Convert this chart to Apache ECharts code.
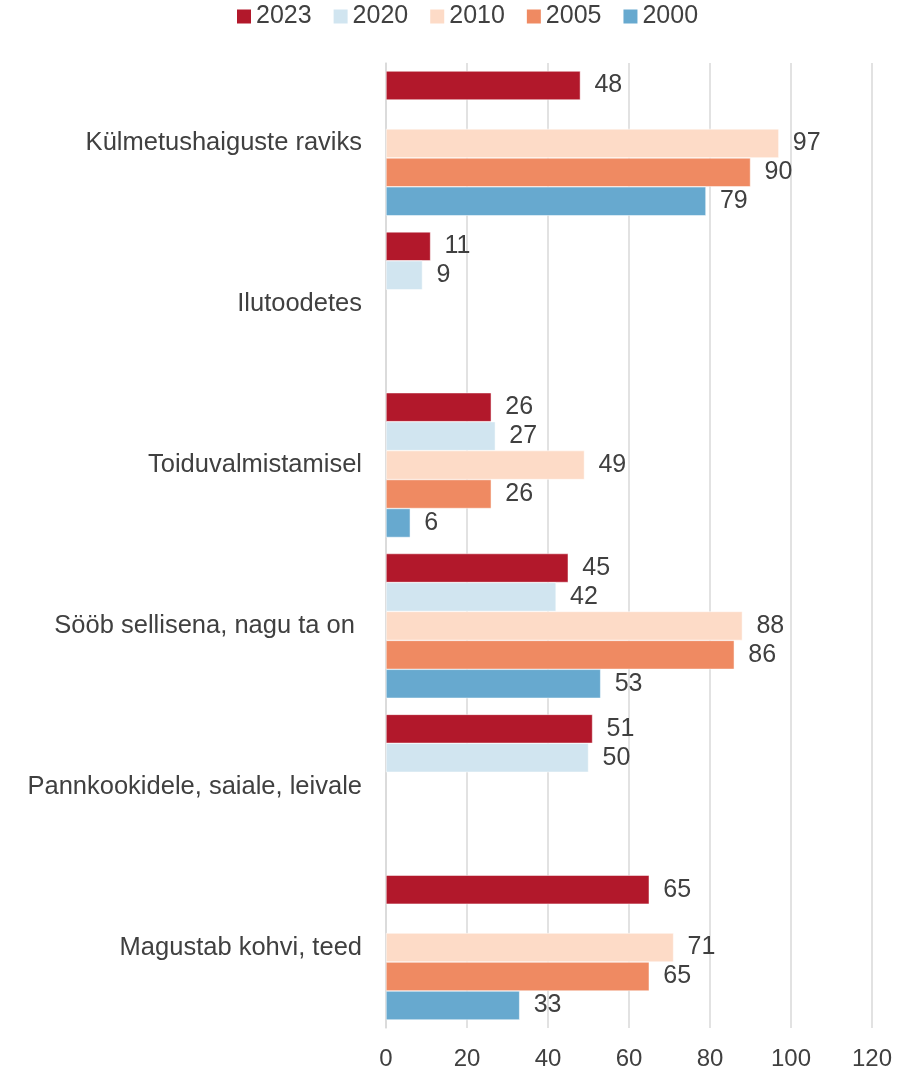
<!DOCTYPE html>
<html>
<head>
<meta charset="utf-8">
<script src="https://cdn.jsdelivr.net/npm/echarts@6/dist/echarts.min.js"></script>
<style>html,body{margin:0;padding:0;background:#fff}#c{width:913px;height:1071px}</style>
</head>
<body>
<div id="c"></div>
<script>
const categories = ["Külmetushaiguste raviks", "Ilutoodetes", "Toiduvalmistamisel", "Sööb sellisena, nagu ta on ", "Pannkookidele, saiale, leivale", "Magustab kohvi, teed"];
const seriesNames = ["2023", "2020", "2010", "2005", "2000"];
const v2023 = [48, 11, 26, 45, 51, 65];
const v2020 = [null, 9, 27, 42, 50, null];
const v2010 = [97, null, 49, 88, null, 71];
const v2005 = [90, null, 26, 86, null, 65];
const v2000 = [79, null, 6, 53, null, 33];
const xTicks = [0, 20, 40, 60, 80, 100, 120];

const colors = ["#B2182B", "#D1E5F0", "#FDDBC7", "#EF8A62", "#67A9CF"];
const values = [v2023, v2020, v2010, v2005, v2000];
const txt = "#404040";
const font = "'Liberation Sans', Arial, sans-serif";

const chart = echarts.init(document.getElementById('c'));
chart.setOption({
  animation: false,
  textStyle: { fontFamily: font },
  legend: {
    top: 4, left: 237, padding: 0,
    itemWidth: 14, itemHeight: 14, itemGap: 22,
    icon: 'rect',
    itemStyle: { borderWidth: 0 },
    textStyle: { fontSize: 25, color: txt, fontFamily: font },
    data: seriesNames
  },
  grid: { left: 386, right: 41, top: 63, bottom: 42, containLabel: false },
  xAxis: {
    type: 'value', min: xTicks[0], max: xTicks[xTicks.length - 1], interval: 20,
    axisLine: { show: false }, axisTick: { show: false },
    axisLabel: { fontSize: 24, color: txt, fontFamily: font, margin: 19 },
    splitLine: { lineStyle: { color: '#d9d9d9', width: 1.5 } }
  },
  yAxis: {
    type: 'category', data: categories, inverse: true,
    axisLine: { show: true, lineStyle: { color: '#d9d9d9', width: 1.5 } },
    axisTick: { show: false },
    axisLabel: { fontSize: 25.5, color: txt, fontFamily: font, margin: 24 }
  },
  series: seriesNames.map((n, i) => ({
    name: n, type: 'bar', data: values[i],
    barGap: '0%', barCategoryGap: '10%',
    itemStyle: { color: colors[i], borderColor: '#fff', borderWidth: 0.5 },
    label: { show: true, position: 'right', distance: 14, fontSize: 25, color: txt, fontFamily: font }
  }))
});
</script>
</body>
</html>
